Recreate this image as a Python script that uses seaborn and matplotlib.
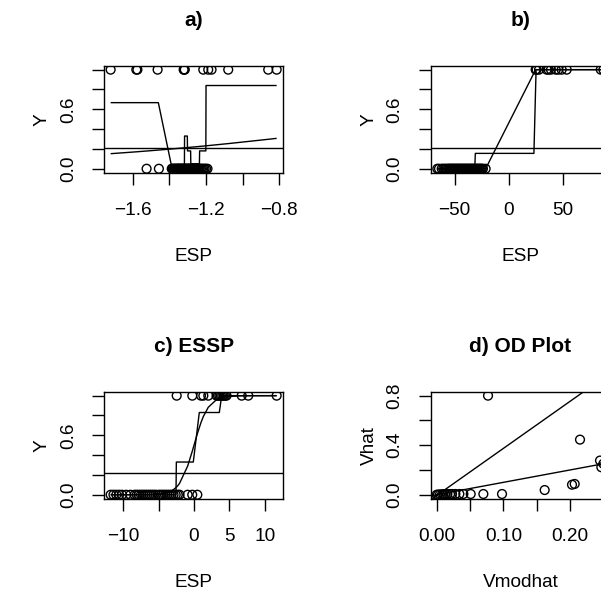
import numpy as np
import pandas as pd
import matplotlib
matplotlib.use("Agg")
import matplotlib.pyplot as plt
import seaborn as sns

# ---------------- a) response plot for a weak predictor ----------------
a_esp_y1 = [-1.720, -1.580, -1.574, -1.464, -1.322, -1.319, -1.316,
            -1.215, -1.188, -1.170, -1.079, -0.861, -0.815]
a_esp_y0 = [-1.524, -1.457, -1.387,
            -1.382, -1.376, -1.371, -1.366, -1.362, -1.357, -1.353, -1.349,
            -1.345, -1.341, -1.337, -1.333, -1.330, -1.326, -1.322, -1.318,
            -1.314, -1.310, -1.306, -1.302, -1.298, -1.294, -1.290, -1.286,
            -1.282, -1.278, -1.274, -1.270, -1.265, -1.260, -1.255, -1.250,
            -1.245, -1.240, -1.234, -1.228, -1.222, -1.215, -1.208, -1.200,
            -1.192]
a_step_esp = [-1.720, -1.460, -1.385, -1.318, -1.317, -1.302, -1.301,
              -1.284, -1.283, -1.236, -1.235, -1.201, -1.200, -0.815]
a_step_y = [0.667, 0.667, 0.0, 0.0, 0.33, 0.33, 0.18,
            0.18, 0.05, 0.05, 0.18, 0.18, 0.84, 0.84]
a_ybar = 0.214

# ---------------- b) response plot with separated classes ----------------
b_esp_y1 = [24.6, 25.5, 27.7, 34.8, 36.5, 38.7, 43.1, 45.5, 48.6, 53.2,
            84.6, 87.0]
b_esp_y0 = [-66.0, -64.5, -62.0, -60.5, -59.0, -57.5, -56.0, -55.0, -54.0,
            -53.0, -52.0, -51.0, -50.0, -49.0, -48.0, -47.0, -46.0, -45.0,
            -44.0, -43.0, -42.0, -41.0, -40.0, -39.0, -38.0, -37.0, -36.0,
            -35.0, -34.0, -33.0, -32.0, -31.0, -30.0, -29.0, -28.0, -27.0,
            -26.0, -25.0, -24.0, -21.5]
b_step_esp = [-66.0, -31.5, -31.0, 23.0, 25.0, 87.0]
b_step_y = [0.0, 0.0, 0.155, 0.155, 1.0, 1.0]
b_ybar = 0.21

# ---------------- c) estimated sufficient summary plot ----------------
c_esp_y1 = [-2.45, -0.24, 0.99, 1.32, 2.02, 3.2, 3.4, 3.6, 3.8, 4.0, 4.2,
            4.4, 4.6, 6.75, 7.68, 11.7]
c_esp_y0 = [-11.8, -11.4, -11.0, -10.6, -10.2, -9.6, -9.0, -8.4, -8.1, -7.8,
            -7.5, -7.2, -6.9, -6.6, -6.3, -6.0, -5.7, -5.4, -5.0, -4.7, -4.4,
            -4.1, -3.8, -3.5, -3.2, -2.9, -2.6, -2.3, -2.05, -0.9, -0.25, 0.47]
c_step_esp = [-11.8, -2.55, -2.50, -0.10, 0.75, 3.58, 3.92, 11.7]
c_step_y = [0.0, 0.0, 0.33, 0.33, 0.83, 0.83, 1.0, 1.0]
c_ybar = 0.217

# ---------------- d) OD plot ----------------
d_vmodhat = [0.000, 0.002, 0.005, 0.008, 0.010, 0.013, 0.016, 0.020, 0.023,
             0.028, 0.034, 0.040, 0.051, 0.070, 0.098, 0.162, 0.203, 0.207,
             0.077, 0.215, 0.245, 0.247, 0.250]
d_vhat = [0.000, 0.001, 0.003, 0.002, 0.005, 0.004, 0.006, 0.005, 0.006,
          0.006, 0.006, 0.006, 0.006, 0.006, 0.006, 0.038, 0.081, 0.087,
          0.800, 0.445, 0.276, 0.222, 0.250]
d_identity = (0.0, 1.0)      # intercept, slope
d_ols = (-0.006, 3.8)        # intercept, slope

# ---------------- styling ----------------
sns.set_style("ticks")
plt.rcParams["font.family"] = ["Liberation Sans", "DejaVu Sans"]
plt.rcParams.update({
    "axes.edgecolor": "black",
    "axes.linewidth": 1.0,
    "xtick.color": "black",
    "ytick.color": "black",
    "text.color": "black",
    "axes.labelcolor": "black",
    "lines.solid_capstyle": "butt",
})

FS = 13.7
TITLE_FS = 15
LW = 1.0

W, H = 601, 594
fig = plt.figure(figsize=(W / 100, H / 100), dpi=100)
fig.patch.set_facecolor("white")

AX_W, AX_H = 179.3, 107.0


def make_axes(left_px, top_px):
    return fig.add_axes([left_px / W, 1 - (top_px + AX_H) / H,
                         AX_W / W, AX_H / H])


def style_axes(ax, title, xlabel, ylabel, xticks, xlabels, yticks, ylabels,
               xlim, ylim):
    ax.set_xlim(*xlim)
    ax.set_ylim(*ylim)
    ax.set_xticks(xticks)
    ax.set_xticklabels(xlabels, fontsize=FS)
    ax.set_yticks(yticks)
    ax.set_yticklabels(ylabels, fontsize=FS, rotation=90, va="center",
                       ha="right")
    ax.tick_params(axis="both", direction="out", length=8.6, width=LW,
                   color="black")
    ax.tick_params(axis="x", pad=12.5)
    ax.tick_params(axis="y", pad=11)
    for sp in ax.spines.values():
        sp.set_visible(True)
        sp.set_linewidth(LW)
        sp.set_color("black")
    ax.set_title(title, fontsize=TITLE_FS, fontweight="bold", pad=28.6)
    ax.set_xlabel(xlabel, fontsize=FS)
    ax.set_ylabel(ylabel, fontsize=FS)
    ax.xaxis.set_label_coords(0.5, -0.7065)
    ax.yaxis.set_label_coords(-0.2956, 0.5)
    ax.set_facecolor("white")


def open_points(ax, x, y):
    sns.scatterplot(x=np.asarray(x, float), y=np.asarray(y, float), ax=ax,
                    marker="o", s=40, facecolor="none", edgecolor="black",
                    linewidth=LW, zorder=2, legend=False)


def response_panel(ax, esp1, esp0, step_x, step_y, ybar):
    df = pd.DataFrame({"ESP": list(esp0) + list(esp1),
                       "Y": [0] * len(esp0) + [1] * len(esp1)})
    open_points(ax, df["ESP"], df["Y"])
    srt = df.sort_values("ESP")
    fitted = 1.0 / (1.0 + np.exp(-srt["ESP"].to_numpy()))
    sns.lineplot(x=srt["ESP"].to_numpy(), y=fitted, ax=ax, sort=False,
                 estimator=None, color="black", linewidth=LW, zorder=3)
    sns.lineplot(x=np.asarray(step_x), y=np.asarray(step_y), ax=ax,
                 sort=False, estimator=None, color="black", linewidth=LW,
                 zorder=3)
    ax.axhline(ybar, color="black", linewidth=LW, zorder=3)


def pad_lim(vals, frac=0.04):
    lo, hi = min(vals), max(vals)
    r = hi - lo
    return lo - frac * r, hi + frac * r


y01_ticks = [0.0, 0.2, 0.4, 0.6, 0.8, 1.0]
y01_labels = ["0.0", "", "", "0.6", "", ""]

# a)
ax_a = make_axes(104.0, 65.7)
response_panel(ax_a, a_esp_y1, a_esp_y0, a_step_esp, a_step_y, a_ybar)
style_axes(ax_a, "a)", "ESP", "Y",
           [-1.6, -1.4, -1.2, -1.0, -0.8], ["\u22121.6", "", "\u22121.2", "", "\u22120.8"],
           y01_ticks, y01_labels,
           pad_lim(a_esp_y1 + a_esp_y0), (-0.04, 1.04))

# b)
ax_b = make_axes(430.7, 65.7)
response_panel(ax_b, b_esp_y1, b_esp_y0, b_step_esp, b_step_y, b_ybar)
style_axes(ax_b, "b)", "ESP", "Y",
           [-50, 0, 50], ["\u221250", "0", "50"],
           y01_ticks, y01_labels,
           pad_lim(b_esp_y1 + b_esp_y0), (-0.04, 1.04))

# c)
ax_c = make_axes(104.0, 391.7)
response_panel(ax_c, c_esp_y1, c_esp_y0, c_step_esp, c_step_y, c_ybar)
style_axes(ax_c, "c) ESSP", "ESP", "Y",
           [-10, -5, 0, 5, 10], ["\u221210", "", "0", "5", "10"],
           y01_ticks, y01_labels,
           pad_lim(c_esp_y1 + c_esp_y0), (-0.04, 1.04))

# d)
ax_d = make_axes(430.7, 391.7)
open_points(ax_d, d_vmodhat, d_vhat)
for icpt, slope in (d_identity, d_ols):
    ax_d.axline((0.0, icpt), slope=slope, color="black", linewidth=LW,
                zorder=3)
style_axes(ax_d, "d) OD Plot", "Vmodhat", "Vhat",
           [0.0, 0.05, 0.10, 0.15, 0.20, 0.25],
           ["0.00", "", "0.10", "", "0.20", ""],
           [0.0, 0.2, 0.4, 0.6, 0.8], ["0.0", "", "0.4", "", "0.8"],
           (-0.009, 0.26), pad_lim(d_vhat))

fig.savefig("out.png", dpi=100, facecolor="white")
